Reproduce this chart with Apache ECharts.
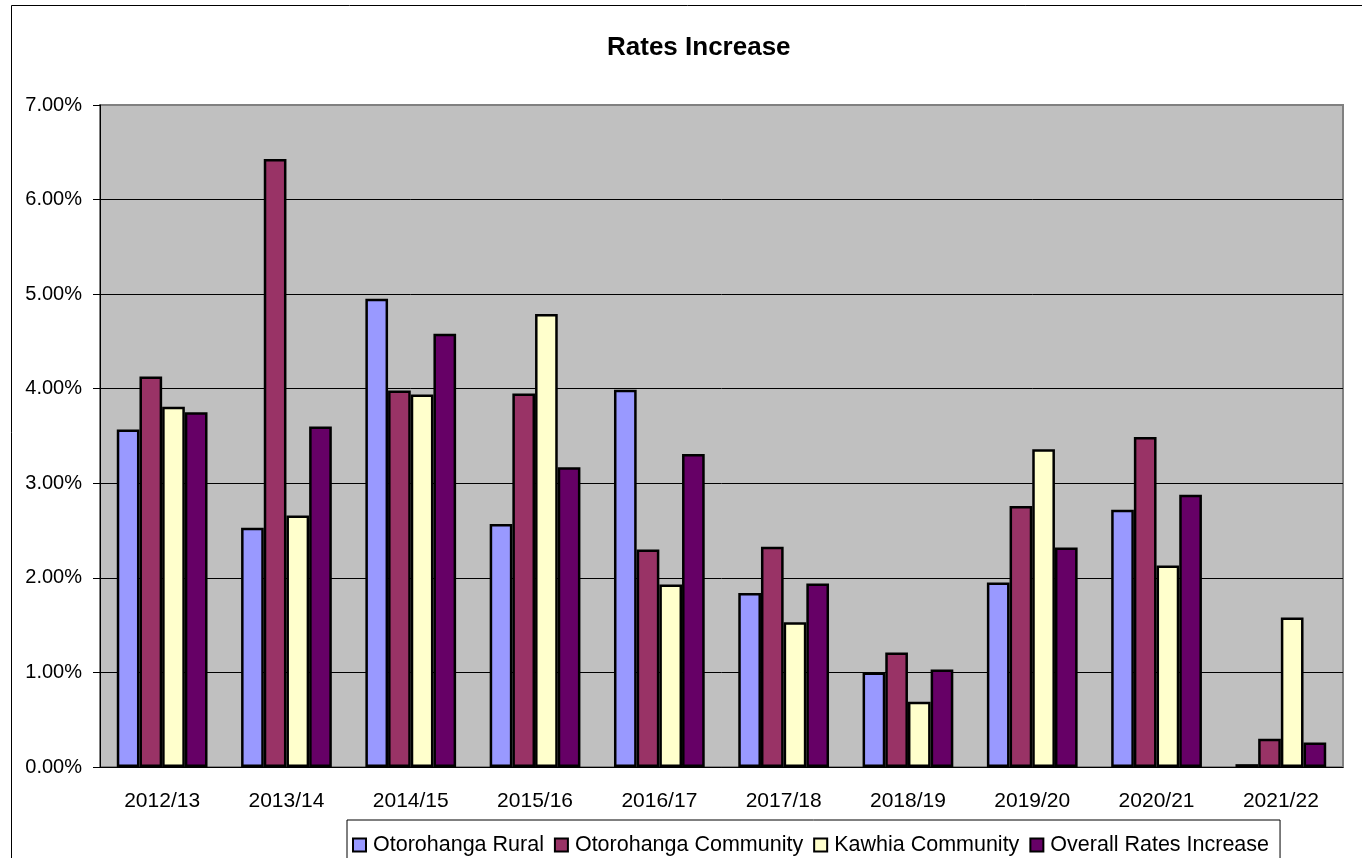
<!DOCTYPE html>
<html>
<head>
<meta charset="utf-8">
<title>Rates Increase</title>
<script src="https://cdn.jsdelivr.net/npm/echarts@6/dist/echarts.min.js"></script>
<style>
  html, body { margin: 0; padding: 0; background: #fff; }
  #chart { width: 1362px; height: 858px; }
</style>
</head>
<body>
<div id="chart"></div>
<script>
// years on the x axis
const years = ['2012/13', '2013/14', '2014/15', '2015/16', '2016/17', '2017/18', '2018/19', '2019/20', '2020/21', '2021/22']

// rate increase per year, in percent
const otorohangaRural = [3.57, 2.53, 4.95, 2.57, 3.99, 1.84, 1.00, 1.95, 2.72, 0.03]
const otorohangaCommunity = [4.13, 6.43, 3.98, 3.95, 2.30, 2.33, 1.21, 2.76, 3.49, 0.30]
const kawhiaCommunity = [3.81, 2.66, 3.94, 4.79, 1.93, 1.53, 0.69, 3.36, 2.13, 1.58]
const overallIncrease = [3.75, 3.60, 4.58, 3.17, 3.31, 1.94, 1.03, 2.32, 2.88, 0.26]

const seriesNames = ['Otorohanga Rural', 'Otorohanga Community', 'Kawhia Community', 'Overall Rates Increase']
const seriesColors = ['#9999FF', '#993366', '#FFFFCC', '#660066']

const font = 'Liberation Sans, Arial, sans-serif'

function makeBar(name, data, color) {
  return {
    name: name,
    type: 'bar',
    data: data,
    barGap: '0%',
    barCategoryGap: '27%',
    itemStyle: { color: color, borderColor: '#000', borderWidth: 2.5 }
  }
}

const chart = echarts.init(document.getElementById('chart'))

const option = {
  animation: false,
  backgroundColor: '#fff',
  textStyle: { fontFamily: font },
  title: {
    text: 'Rates Increase',
    left: 607,
    top: 35,
    padding: 0,
    textStyle: { fontFamily: font, fontSize: 26, fontWeight: 'bold', color: '#000' }
  },
  grid: {
    left: 100,
    right: 19,
    top: 105,
    bottom: 91,
    show: true,
    backgroundColor: '#C0C0C0',
    borderColor: '#808080',
    borderWidth: 2
  },
  legend: {
    left: 347,
    top: 820,
    padding: [14, 11, 20, 5],
    itemWidth: 13,
    itemHeight: 13,
    itemGap: 10,
    icon: 'rect',
    backgroundColor: '#fff',
    borderColor: '#000',
    borderWidth: 1,
    textStyle: { fontFamily: font, fontSize: 21.5, color: '#000', padding: [0, 0, 0, 2] },
    data: seriesNames
  },
  xAxis: {
    type: 'category',
    data: years,
    axisLine: { lineStyle: { color: '#000', width: 1 } },
    axisTick: { length: 7, lineStyle: { color: '#000' } },
    axisLabel: { fontFamily: font, fontSize: 21, color: '#000', margin: 24 }
  },
  yAxis: {
    type: 'value',
    min: 0,
    max: 7,
    interval: 1,
    axisLine: { show: true, lineStyle: { color: '#000', width: 1 } },
    axisTick: { show: true, length: 7, lineStyle: { color: '#000' } },
    axisLabel: {
      fontFamily: font, fontSize: 20, color: '#000', margin: 18,
      formatter: function (v) { return v.toFixed(2) + '%' }
    },
    splitLine: { show: true, showMaxLine: false, lineStyle: { color: '#000', width: 1 } }
  },
  graphic: [
    {
      type: 'rect',
      shape: { x: 11.5, y: 5.5, width: 1400, height: 900 },
      style: { fill: 'none', stroke: '#000', lineWidth: 1 },
      silent: true,
      z: -1
    }
  ],
  series: [
    makeBar(seriesNames[0], otorohangaRural, seriesColors[0]),
    makeBar(seriesNames[1], otorohangaCommunity, seriesColors[1]),
    makeBar(seriesNames[2], kawhiaCommunity, seriesColors[2]),
    makeBar(seriesNames[3], overallIncrease, seriesColors[3])
  ]
}

chart.setOption(option)
</script>
</body>
</html>
